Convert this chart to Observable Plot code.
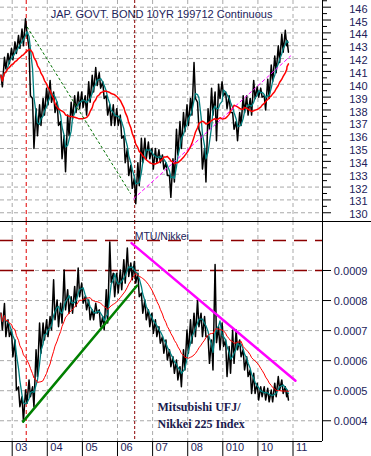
<!DOCTYPE html>
<html><head><meta charset="utf-8">
<script src="https://cdn.jsdelivr.net/npm/d3@7"></script>
<script src="https://cdn.jsdelivr.net/npm/@observablehq/plot@0.6"></script>
<style>
body{margin:0;background:#fff;}
#chart svg{display:block;}
</style></head><body><div id="chart"></div>
<script>
// ---- data ----
const sampleYears = [2002.7,2002.8,2002.9,2003.0,2003.1,2003.2,2003.3,2003.4,2003.5,2003.6,2003.7,2003.8,2003.9,
2004.0,2004.1,2004.2,2004.3,2004.4,2004.5,2004.6,2004.7,2004.8,2004.9,
2005.0,2005.1,2005.2,2005.3,2005.4,2005.5,2005.6,2005.7,2005.8,2005.9,
2006.0,2006.1,2006.2,2006.3,2006.4,2006.5,2006.6,2006.7,2006.8,2006.9,
2007.0,2007.1,2007.2,2007.3,2007.4,2007.5,2007.6,2007.7,2007.8,2007.9,
2008.0,2008.1,2008.2,2008.3,2008.4,2008.5,2008.6,2008.7,2008.8,2008.9,
2009.0,2009.1,2009.2,2009.3,2009.4,2009.5,2009.6,2009.7,2009.8,2009.9,
2010.0,2010.1,2010.2,2010.3,2010.4,2010.5,2010.6,2010.7,2010.8,2010.85];

// JGB 10yr futures: high / low of the black trace at each sample
const jgbHigh = [140.7,142.1,142.4,142.8,143.3,143.8,144.3,145.1,142.8,138.9,138.1,138.4,138.9,
139.7,140.3,139.4,138.6,137.1,136.0,137.6,138.6,139.1,139.4,
139.4,139.1,140.2,140.7,141.3,140.9,140.2,139.1,138.4,138.4,
138.1,137.6,136.0,135.0,133.7,132.7,133.9,135.8,135.8,135.5,
135.0,135.0,134.9,134.5,133.9,132.9,134.2,136.5,137.1,137.8,
138.4,138.9,141.7,138.6,136.0,135.0,138.1,139.7,139.4,140.0,
140.2,139.4,139.1,137.8,137.1,137.8,139.1,139.1,138.9,140.3,
139.8,139.7,139.1,140.4,141.5,142.2,143.0,143.9,144.2,143.4];
const jgbLow = [139.8,141.2,141.6,141.9,142.4,142.8,143.0,144.0,139.1,135.0,136.0,136.8,137.6,
138.4,138.6,137.8,136.8,134.2,133.2,136.0,137.3,137.8,138.1,
138.2,137.6,138.6,139.4,139.9,139.7,138.9,137.6,136.8,136.8,
136.8,135.8,133.9,132.9,131.9,130.7,132.1,133.9,134.2,134.2,
133.4,133.9,133.9,133.4,132.9,131.2,132.4,134.5,135.0,136.3,
136.8,137.6,138.9,136.5,133.4,132.4,136.5,137.6,135.6,138.9,
139.1,138.1,137.8,136.5,135.6,136.8,137.8,137.6,137.6,138.9,
139.0,139.0,138.0,138.9,140.2,140.9,141.7,142.5,143.0,142.5];

// MTU / Nikkei ratio, in units of 0.0001
const RATIO_UNIT = 1e-4;
const ratioHigh = [7.58,7.9,7.36,7.02,6.69,5.13,4.8,5.02,5.36,5.13,6.36,7.25,7.25,
7.36,7.47,8.69,8.02,7.91,9.02,8.36,8.13,8.47,9.08,
8.58,8.13,8.02,7.69,7.91,7.69,7.47,8.36,9.95,8.91,
8.91,9.02,9.36,9.75,9.25,9.3,8.91,8.25,8.02,7.69,
7.58,7.36,7.13,6.8,6.69,6.36,6.13,6.02,5.8,6.36,
7.02,7.36,7.58,8.02,7.58,7.47,6.8,6.69,9.2,7.13,
7.25,6.69,6.47,7.02,7.02,6.69,6.36,6.13,5.69,5.58,
5.25,5.13,5.13,5.08,5.02,5.25,5.47,5.36,5.13,5.02];
const ratioLow = [7.02,6.8,6.8,6.13,5.02,4.47,3.97,4.58,4.8,4.47,5.47,6.25,6.69,
6.8,7.02,7.36,7.13,7.25,7.69,7.58,7.58,7.8,8.13,
7.91,7.69,7.36,7.36,7.58,7.13,7.02,7.25,8.6,8.13,
8.25,8.36,8.58,8.8,8.69,8.58,8.13,7.58,7.36,7.13,
6.91,6.8,6.58,6.25,6.02,5.8,5.58,5.36,5.13,5.69,
6.25,6.58,6.8,7.13,6.8,6.8,5.91,5.69,6.6,6.36,
6.47,5.47,5.58,5.91,6.36,6.13,5.69,5.47,4.91,4.91,
4.69,4.8,4.69,4.63,4.63,4.8,5.02,4.91,4.8,4.69];

// trend lines and markers
const jgbDownTrend = [[2003.43,144.44],[2006.37,131.5]];
const jgbUpTrend = [[2006.46,131.09],[2010.93,142.2]];
const ratioUpTrend = [[2003.31,0.000397],[2006.56,0.00085]];
const ratioDownTrend = [[2006.40,0.000991],[2011.07,0.000533]];
const eventYears = [2003.4, 2006.49];
const ratioLevels = [0.0010, 0.0009];

// ticks
const xTickYears = [2003,2004,2005,2006,2007,2008,2009,2010,2011];
const xTickLabels = ["03","04","05","06","07","08","010","10","11"];
const jgbTicks = [130,131,132,133,134,135,136,137,138,139,140,141,142,143,144,145,146];
const jgbMinorTicks = [130.5,131.5,132.5,133.5,134.5,135.5,136.5,137.5,138.5,139.5,140.5,141.5,142.5,143.5,144.5,145.5,146.5];
const ratioTicks = [0.0004,0.0005,0.0006,0.0007,0.0008,0.0009];

const titleTop = "JAP. GOVT. BOND 10YR 199712 Continuous";
const titleBottom = "MTU/Nikkei";
const noteLines = ["Mitsubishi UFJ/","Nikkei 225 Index"];

// ---- build ----
function zig(hi, lo, unit = 1) {
  const out = [];
  sampleYears.forEach((yr, i) => {
    out.push({x: yr - 0.02, v: hi[i] * unit});
    out.push({x: yr + 0.02, v: lo[i] * unit});
  });
  return out;
}
const jgb = zig(jgbHigh, jgbLow);
const ratio = zig(ratioHigh, ratioLow, RATIO_UNIT);

const W = 371, MR = 49;
const xDomain = [2002.667, 2011.84];
const topDomain = [129.32, 146.52];
const botDomain = [0.000331, 0.001063];
const font = "Liberation Sans, Arial, sans-serif";
const labelColor = "#22225a";
const grid = {stroke: "#a9a9a9", strokeOpacity: 1, strokeDasharray: "4,3"};
const fastMA = Plot.windowY({k: 4, anchor: "end", reduce: "mean"}, {x: "x", y: "v", stroke: "#008080", strokeWidth: 1.3});
const slowMA = (w) => Plot.windowY({k: 16, anchor: "end", reduce: "mean"}, {x: "x", y: "v", stroke: "#ff0000", strokeWidth: w});

const topChart = Plot.plot({
  width: W, height: 221, marginLeft: 0, marginRight: MR, marginTop: 0, marginBottom: 0,
  x: {type: "linear", domain: xDomain, axis: null},
  y: {domain: topDomain, axis: null},
  style: {fontFamily: font, background: "#fff", overflow: "visible"},
  marks: [
    Plot.gridY(jgbTicks, grid),
    Plot.gridX(xTickYears, grid),
    Plot.ruleX([eventYears[0]], {stroke: "#e00000", strokeDasharray: "4,3"}),
    Plot.ruleX([eventYears[1]], {stroke: "#8b0000", strokeDasharray: "3,2"}),
    Plot.lineY(jgb, {x: "x", y: "v", stroke: "#000", strokeWidth: 1.5}),
    Plot.lineY(jgb, fastMA),
    Plot.lineY(jgb, slowMA(1.5)),
    Plot.line(jgbDownTrend, {x: d => d[0], y: d => d[1], stroke: "#007000", strokeWidth: 1, strokeDasharray: "2,3"}),
    Plot.line(jgbUpTrend, {x: d => d[0], y: d => d[1], stroke: "#ff00ff", strokeWidth: 1, strokeDasharray: "3,3"}),
    Plot.ruleX([xDomain[1]], {stroke: "#000"}),
    Plot.axisY(jgbTicks, {anchor: "right", tickSize: 8, tickFormat: () => "", label: null, stroke: "#000"}),
    Plot.axisY(jgbMinorTicks, {anchor: "right", tickSize: 4, tickFormat: () => "", label: null, stroke: "#000"}),
    Plot.text(jgbTicks, {y: d => d, text: d => String(d), frameAnchor: "right", textAnchor: "end", dx: 45, dy: 2, fill: labelColor, fontSize: 11}),
    Plot.text([titleTop], {text: d => d, frameAnchor: "top", dy: 10, fill: labelColor, fontSize: 11})
  ]
});

const noteStyle = {text: d => d, frameAnchor: "bottom-left", textAnchor: "start", dx: 157, fill: "#1a1a4e", fontSize: 12, fontWeight: "bold", fontFamily: "Liberation Serif, Times New Roman, serif"};

const botChart = Plot.plot({
  width: W, height: 235, marginLeft: 0, marginRight: MR, marginTop: 0, marginBottom: 15,
  x: {type: "linear", domain: xDomain, axis: null},
  y: {domain: botDomain, axis: null},
  style: {fontFamily: font, background: "#fff", overflow: "visible"},
  marks: [
    Plot.gridY(ratioTicks, grid),
    Plot.gridX(xTickYears, grid),
    Plot.ruleX([eventYears[0]], {stroke: "#e00000", strokeDasharray: "4,3"}),
    Plot.ruleX([eventYears[1]], {stroke: "#8b0000", strokeDasharray: "3,2"}),
    Plot.ruleY(ratioLevels, {stroke: "#8b0000", strokeWidth: 1.5, strokeDasharray: "13,8"}),
    Plot.lineY(ratio, {x: "x", y: "v", stroke: "#000", strokeWidth: 1.5}),
    Plot.lineY(ratio, fastMA),
    Plot.lineY(ratio, slowMA(1)),
    Plot.line(ratioUpTrend, {x: d => d[0], y: d => d[1], stroke: "#008000", strokeWidth: 2.5}),
    Plot.line(ratioDownTrend, {x: d => d[0], y: d => d[1], stroke: "#ff00ff", strokeWidth: 2.5}),
    Plot.ruleX([xDomain[1]], {stroke: "#000"}),
    Plot.ruleY([botDomain[1]], {stroke: "#000"}),
    Plot.axisY([botDomain[1]], {anchor: "right", tickSize: MR, tickFormat: () => "", label: null, stroke: "#000"}),
    Plot.ruleY([botDomain[0]], {stroke: "#000"}),
    Plot.axisY(ratioTicks, {anchor: "right", tickSize: 8, tickFormat: () => "", label: null, stroke: "#000"}),
    Plot.text(ratioTicks, {y: d => d, text: d => d.toFixed(4), frameAnchor: "right", textAnchor: "end", dx: 45, dy: 1, fill: labelColor, fontSize: 11}),
    Plot.axisX(xTickYears, {anchor: "bottom", tickSize: 16, tickFormat: () => "", label: null, stroke: "#000"}),
    Plot.text(xTickYears, {x: d => d, text: (d, i) => xTickLabels[i], frameAnchor: "bottom", textAnchor: "start", dx: 3, dy: 9, fill: labelColor, fontSize: 11}),
    Plot.text([titleBottom], {x: () => eventYears[1], text: d => d, frameAnchor: "top", textAnchor: "start", dy: 11, fill: labelColor, fontSize: 10.5}),
    Plot.text([noteLines[0]], {...noteStyle, dy: -31}),
    Plot.text([noteLines[1]], {...noteStyle, dy: -14})
  ]
});

document.getElementById("chart").append(topChart, botChart);
</script></body></html>
